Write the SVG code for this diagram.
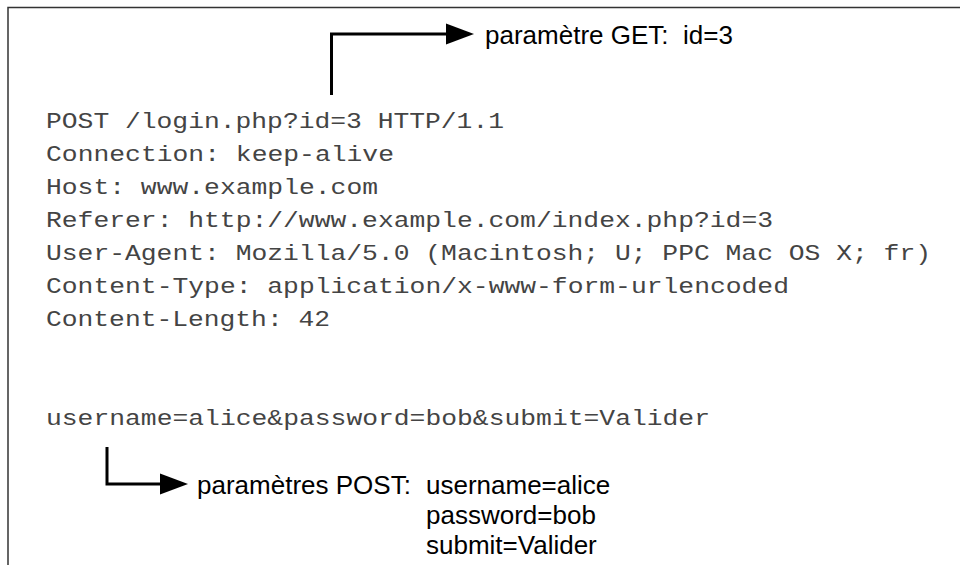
<svg xmlns="http://www.w3.org/2000/svg" width="960" height="565" viewBox="0 0 960 565">
  <defs>
    <marker id="head" markerUnits="userSpaceOnUse" markerWidth="28" markerHeight="21" refX="0" refY="10.5" orient="auto" overflow="visible">
      <path d="M0,0 L28,10.5 L0,21 Z" fill="#000"/>
    </marker>
    <style>
      .frame { fill: none; stroke: #333; stroke-width: 1.5; }
      .code { font-family: "Liberation Mono", "DejaVu Sans Mono", monospace; font-size: 22px; fill: #444; }
      .note { font-family: "Liberation Sans", Arial, Helvetica, sans-serif; font-size: 26px; fill: #000; white-space: pre; }
      .link { fill: none; stroke: #000; stroke-width: 3; marker-end: url(#head); }
    </style>
  </defs>

  <rect width="960" height="565" fill="#fff"/>
  <rect class="frame" x="8" y="7.5" width="980" height="600"/>

  <!-- HTTP request -->
  <g id="request" class="code">
    <text x="46" y="128" textLength="458" lengthAdjust="spacingAndGlyphs">POST /login.php?id=3 HTTP/1.1</text>
    <text x="46" y="161" textLength="348" lengthAdjust="spacingAndGlyphs">Connection: keep-alive</text>
    <text x="46" y="194" textLength="332" lengthAdjust="spacingAndGlyphs">Host: www.example.com</text>
    <text x="46" y="227" textLength="727" lengthAdjust="spacingAndGlyphs">Referer: http://www.example.com/index.php?id=3</text>
    <text x="46" y="260" textLength="885" lengthAdjust="spacingAndGlyphs">User-Agent: Mozilla/5.0 (Macintosh; U; PPC Mac OS X; fr)</text>
    <text x="46" y="293" textLength="743" lengthAdjust="spacingAndGlyphs">Content-Type: application/x-www-form-urlencoded</text>
    <text x="46" y="326" textLength="284" lengthAdjust="spacingAndGlyphs">Content-Length: 42</text>
    <text x="46" y="425" textLength="664" lengthAdjust="spacingAndGlyphs">username=alice&amp;password=bob&amp;submit=Valider</text>
  </g>

  <!-- GET parameter note -->
  <g id="get-note" class="note">
    <text x="485" y="44" xml:space="preserve">paramètre GET:  id=3</text>
  </g>

  <!-- POST parameter note -->
  <g id="post-note" class="note">
    <text x="197" y="494">paramètres POST:</text>
    <text x="426" y="494">username=alice</text>
    <text x="426" y="524">password=bob</text>
    <text x="426" y="554">submit=Valider</text>
  </g>

  <!-- connectors -->
  <g id="connectors">
    <path class="link" d="M331.5,95 V34 H446"/>
    <path class="link" d="M107,447 V484 H160"/>
  </g>
</svg>
